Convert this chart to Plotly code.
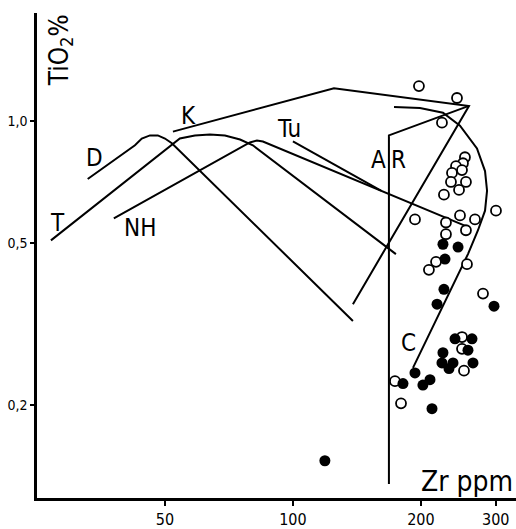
import plotly.graph_objects as go
import math

# ---- data (Zr ppm, TiO2 %) ----
d_x = [32.9, 42.5, 44.1, 46.1, 48.1, 50.0, 51.9, 138.4]
d_y = [0.719, 0.870, 0.904, 0.920, 0.920, 0.904, 0.880, 0.322]

t_x = [26.96, 54.2, 58.8, 63.8, 69.2, 75.1, 80.5, 174.7]
t_y = [0.508, 0.904, 0.920, 0.925, 0.920, 0.899, 0.870, 0.470]

nh_x = [37.9, 79.2, 82.3, 85.0, 259.5]
nh_y = [0.575, 0.884, 0.894, 0.889, 0.547]

k_x = [52.2, 124.9, 259.5, 138.4]
k_y = [0.940, 1.202, 1.087, 0.354]

tu_x = [100.0, 161.1]
tu_y = [0.889, 0.673]

ar_x = [168.2, 168.2, 259.5]
ar_y = [0.128, 0.920, 1.087]

c_x = [172.9, 199.0, 225.4, 247.2, 271.0, 283.1, 286.2, 283.1, 272.5, 258.1, 191.6]
c_y = [1.081, 1.075, 1.046, 0.972, 0.855, 0.752, 0.673, 0.601, 0.538, 0.470, 0.247]

open_x = [197.9, 243.2, 224.2, 253.9, 251.2, 241.9, 236.7, 249.9, 235.4, 255.3,
          245.9, 226.6, 300.4, 193.7, 247.2, 268.1, 229.1, 255.3, 229.1, 217.1,
          208.9, 256.7, 280.0, 249.9, 249.9, 252.6, 173.8, 179.6]
open_y = [1.216, 1.137, 0.989, 0.813, 0.786, 0.773, 0.744, 0.756, 0.707, 0.707,
          0.676, 0.658, 0.601, 0.572, 0.585, 0.572, 0.562, 0.538, 0.526, 0.450,
          0.430, 0.444, 0.376, 0.294, 0.275, 0.243, 0.229, 0.202]

fill_x = [225.4, 244.6, 227.9, 226.6, 218.3, 297.2, 240.6, 263.8, 258.1, 225.4,
          224.2, 238.0, 232.9, 265.2, 193.7, 210.1, 202.2, 181.5, 212.4, 118.9]
fill_y = [0.497, 0.489, 0.457, 0.385, 0.354, 0.350, 0.291, 0.291, 0.273, 0.269,
          0.254, 0.254, 0.246, 0.254, 0.240, 0.231, 0.224, 0.226, 0.196, 0.146]

y_ticks = [0.2, 0.5, 1.0]
y_ticktext = ["0,2", "0,5", "1,0"]
x_ticks = [50, 100, 200, 300]
x_ticktext = ["50", "100", "200", "300"]

curve_labels = [("D", 0.121, 0.701), ("T", 0.042, 0.566), ("NH", 0.215, 0.556),
                ("K", 0.317, 0.788), ("Tu", 0.526, 0.760), ("A", 0.712, 0.697),
                ("R", 0.754, 0.697), ("C", 0.775, 0.320)]

FONT = "DejaVu Sans Condensed, Liberation Sans, sans-serif"

fig = go.Figure()
line_style = dict(color="black", width=2)
for xs, ys in [(d_x, d_y), (t_x, t_y), (nh_x, nh_y), (k_x, k_y),
               (tu_x, tu_y), (ar_x, ar_y), (c_x, c_y)]:
    fig.add_trace(go.Scatter(x=xs, y=ys, mode="lines", line=line_style,
                             hoverinfo="skip", showlegend=False))

fig.add_trace(go.Scatter(x=open_x, y=open_y, mode="markers", showlegend=False,
                         marker=dict(size=10, color="white", symbol="circle",
                                     line=dict(color="black", width=1.8))))
fig.add_trace(go.Scatter(x=fill_x, y=fill_y, mode="markers", showlegend=False,
                         marker=dict(size=11, color="black", symbol="circle",
                                     line=dict(color="black", width=0))))

for txt, xp, yp in curve_labels:
    fig.add_annotation(text=txt, x=xp, y=yp, xref="paper", yref="paper",
                       showarrow=False, font=dict(family=FONT, size=24, color="black"),
                       xanchor="center", yanchor="middle")

fig.add_annotation(text="Zr ppm", x=1.0, y=0.035, xref="paper", yref="paper",
                   showarrow=False, font=dict(family=FONT, size=28, color="black"),
                   xanchor="right", yanchor="middle", xshift=-1)
fig.add_annotation(text="TiO<sub>2</sub>%", x=0.048, y=0.923, xref="paper", yref="paper",
                   showarrow=False, textangle=-90,
                   font=dict(family=FONT, size=26, color="black"),
                   xanchor="center", yanchor="middle")

fig.update_layout(
    width=516, height=529,
    margin=dict(l=37, r=0, t=13, b=25),
    paper_bgcolor="white", plot_bgcolor="white",
    xaxis=dict(type="log", range=[math.log10(25.0), math.log10(334.8)],
               showline=True, linecolor="black", linewidth=2.5, mirror=False,
               showgrid=False, zeroline=False, ticks="outside", ticklen=5,
               tickwidth=2, tickcolor="black", tickvals=x_ticks, ticktext=x_ticktext,
               tickfont=dict(family=FONT, size=16, color="black")),
    yaxis=dict(type="log", range=[-0.9272, 0.2646],
               showline=True, linecolor="black", linewidth=2.5, mirror=False,
               showgrid=False, zeroline=False, ticks="outside", ticklen=4,
               tickwidth=2, tickcolor="black", tickvals=y_ticks, ticktext=y_ticktext,
               tickfont=dict(family=FONT, size=14, color="black")),
)

fig.write_html("out.html", config={"displayModeBar": False})
